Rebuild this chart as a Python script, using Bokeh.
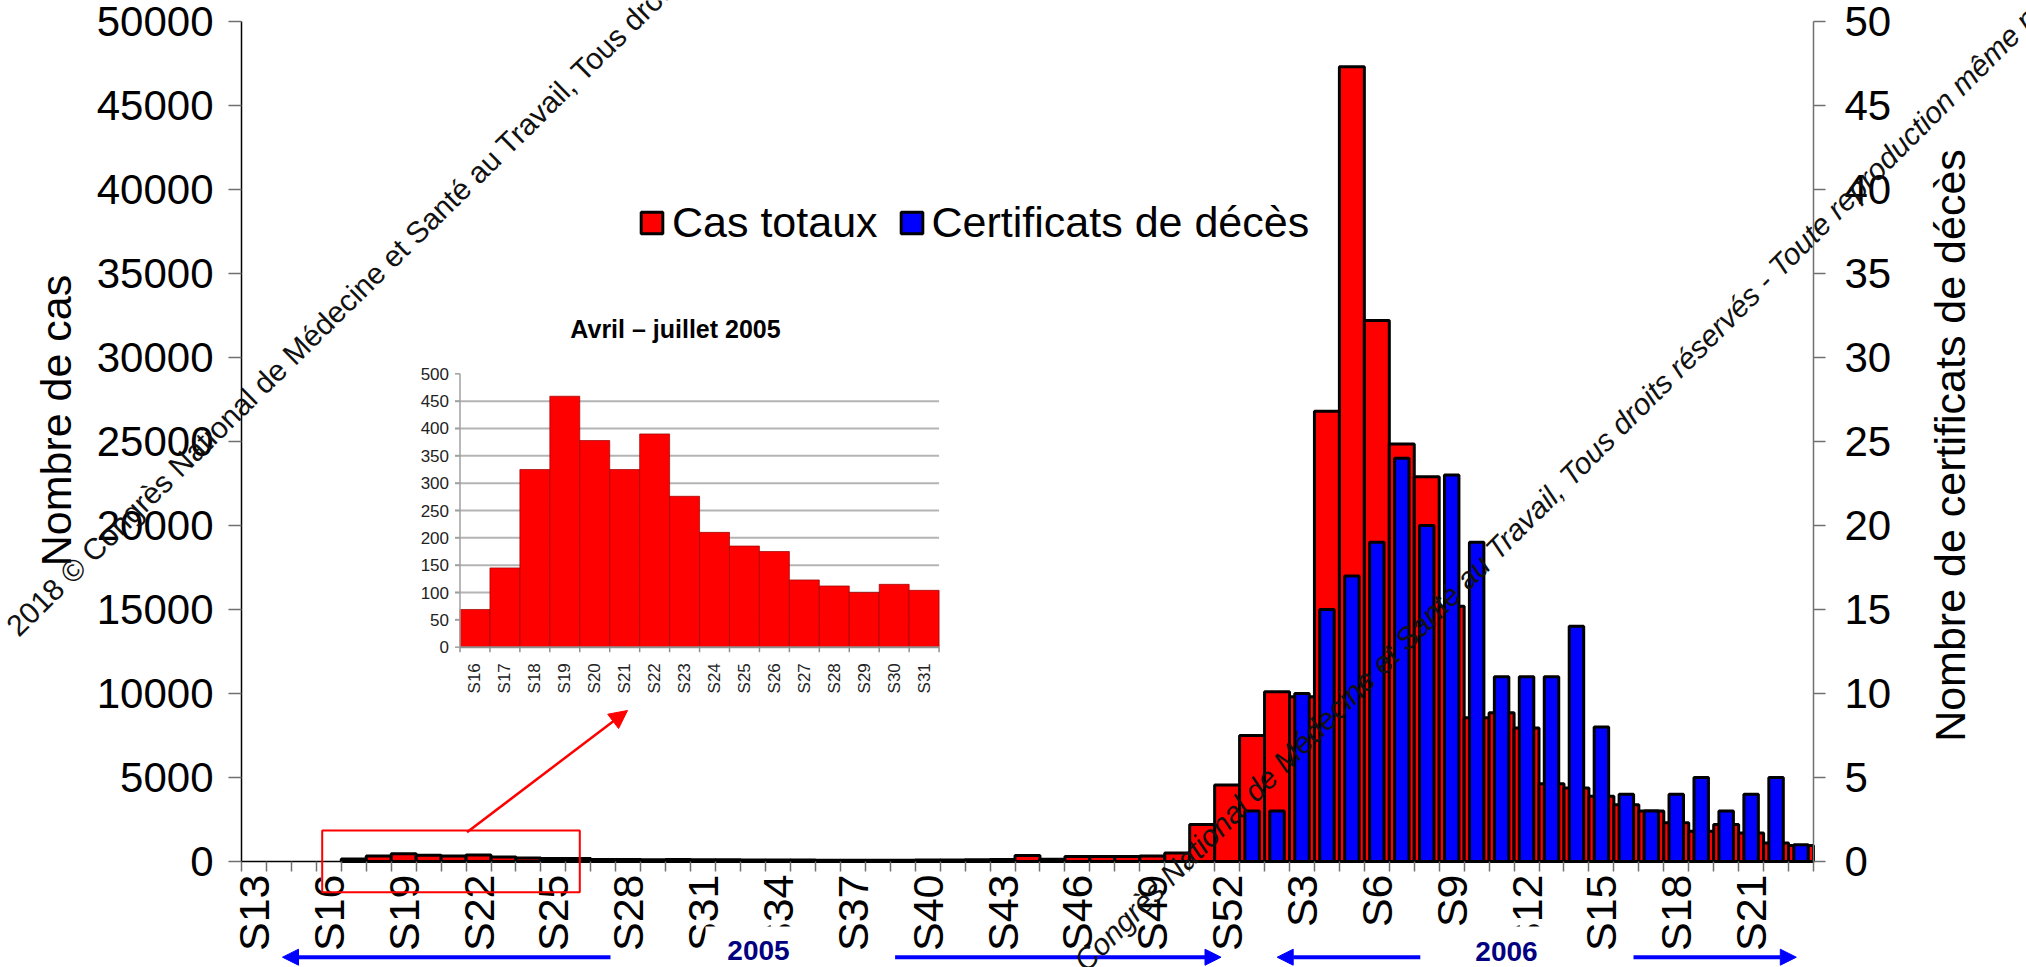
import math
from bokeh.plotting import figure
from bokeh.models import (Range1d, LinearAxis, FixedTicker, Label, Arrow, NormalHead,
                          BoxAnnotation, ColumnDataSource, Legend, LegendItem)
from bokeh.core.properties import value
from bokeh.embed import file_html
from bokeh.resources import INLINE

# ---------------- data ----------------
weeks_2005 = ["S13", "S14", "S15", "S16", "S17", "S18", "S19", "S20", "S21", "S22",
              "S23", "S24", "S25", "S26", "S27", "S28", "S29", "S30", "S31", "S32",
              "S33", "S34", "S35", "S36", "S37", "S38", "S39", "S40", "S41", "S42",
              "S43", "S44", "S45", "S46", "S47", "S48", "S49", "S50", "S51", "S52"]
weeks_2006 = ["S1", "S2", "S3", "S4", "S5", "S6", "S7", "S8", "S9", "S10", "S11", "S12",
              "S13", "S14", "S15", "S16", "S17", "S18", "S19", "S20", "S21", "S22", "S23"]

cas_2005 = [0, 0, 0, 0, 145, 325, 460, 378, 325, 390,
            275, 210, 185, 175, 122, 112, 100, 115, 103, 100,
            95, 90, 85, 80, 80, 75, 80, 85, 90, 100,
            120, 350, 130, 300, 300, 300, 320, 500, 2200, 4550]
cas_2006 = [7500, 10100, 9800, 26800, 47300, 32200, 24850, 22900, 15200, 8550, 8850, 7950,
            4630, 4380, 3880, 3380, 3000, 2300, 1800, 2200, 1700, 1100, 950]
deces_2006 = [3, 3, 10, 15, 17, 19, 24, 20, 23, 19, 11, 11,
              11, 14, 8, 4, 3, 4, 5, 3, 4, 5, 1]

inset_weeks = ["S16", "S17", "S18", "S19", "S20", "S21", "S22", "S23",
               "S24", "S25", "S26", "S27", "S28", "S29", "S30", "S31"]
inset_cas = [69, 145, 325, 459, 378, 325, 390, 276, 210, 185, 175, 123, 112, 100, 115, 104]

y_ticks_cas = [0, 5000, 10000, 15000, 20000, 25000, 30000, 35000, 40000, 45000, 50000]
y_ticks_deces = [0, 5, 10, 15, 20, 25, 30, 35, 40, 45, 50]
inset_y_ticks = [0, 50, 100, 150, 200, 250, 300, 350, 400, 450, 500]
inset_grid = [50, 100, 150, 200, 250, 300, 350, 400, 450]

FONT = "Liberation Sans"
RED = "#FF0000"
BLUE = "#0000FF"
NAVY = "#000080"

# ---------------- layout (page pixels) ----------------
W, H = 2026, 967
FL, FR, FT, FB = 241.0, 1813.0, 21.0, 861.0        # main data area
IL, IR, IT, IB = 459.5, 938.6, 373.3, 646.7        # inset data area
CAS_MAX, DEC_MAX, INS_MAX = 50000, 50, 500

cats = weeks_2005 + weeks_2006
n = len(cats)
xu = (FR - FL) / n
yu = (FB - FT) / CAS_MAX
ixu = (IR - IL) / len(inset_weeks)
iyu = (IB - IT) / INS_MAX


def X(px):
    return (px - FL) / xu


def Y(py):
    return (FB - py) / yu


def IX(px):
    return (px - IL) / ixu


def IY(py):
    return (IB - py) / iyu


centers = [i + 0.5 for i in range(n)]
red_src = ColumnDataSource(dict(
    x=[centers[i] for i, v in enumerate(cas_2005 + cas_2006) if v > 0],
    top=[v for v in cas_2005 + cas_2006 if v > 0]))
off = len(weeks_2005)
blue_src = ColumnDataSource(dict(
    x=[centers[off + i] for i in range(len(deces_2006))],
    top=deces_2006))

# ---------------- figure ----------------
p = figure(width=W, height=H, title=None,
           x_range=Range1d(X(0), X(W)), y_range=Range1d(Y(H), Y(0)),
           output_backend="svg", toolbar_location=None, min_border=0)
p.extra_y_ranges = {"deces": Range1d(Y(H) * DEC_MAX / CAS_MAX, Y(0) * DEC_MAX / CAS_MAX),
                    "iy": Range1d(IY(H), IY(0))}
p.extra_x_ranges = {"ix": Range1d(IX(0), IX(W))}
p.xgrid.visible = False
p.ygrid.visible = False
p.outline_line_color = None

# ---------------- inset (Avril - juillet 2005) ----------------
ni = len(inset_weeks)
p.segment(x0=[IX(IL - 5)] * len(inset_grid), x1=[ni] * len(inset_grid), y0=inset_grid, y1=inset_grid,
          x_range_name="ix", y_range_name="iy", line_color="#b4b4b4", line_width=2)
p.vbar(x=[i + 0.5 for i in range(ni)], top=inset_cas, width=1.0,
       x_range_name="ix", y_range_name="iy", fill_color=RED,
       line_color="#9a0000", line_width=1, line_alpha=0.7)
p.segment(x0=[0], x1=[0], y0=[0], y1=[INS_MAX], x_range_name="ix", y_range_name="iy",
          line_color="#a0a0a0", line_width=1.5)
p.segment(x0=[0], x1=[ni], y0=[0], y1=[0], x_range_name="ix", y_range_name="iy",
          line_color="#909090", line_width=2)
p.segment(x0=list(range(ni + 1)), x1=list(range(ni + 1)), y0=[0] * (ni + 1),
          y1=[IY(IB + 5)] * (ni + 1),
          x_range_name="ix", y_range_name="iy", line_color="#909090", line_width=1.5)
p.segment(x0=[IX(IL - 5)] * len(inset_y_ticks), x1=[0] * len(inset_y_ticks),
          y0=inset_y_ticks, y1=inset_y_ticks,
          x_range_name="ix", y_range_name="iy", line_color="#a0a0a0", line_width=1.5)
p.text(x=[IX(IL - 11)] * len(inset_y_ticks), y=inset_y_ticks, text=[str(v) for v in inset_y_ticks],
       x_range_name="ix", y_range_name="iy", text_align="right", text_baseline="middle",
       text_font=value(FONT), text_font_size="17px", text_color="#222222")
p.text(x=[i + 0.5 for i in range(ni)], y=[IY(IB + 16)] * ni, text=inset_weeks,
       x_range_name="ix", y_range_name="iy", angle=math.pi / 2,
       text_align="right", text_baseline="middle",
       text_font=value(FONT), text_font_size="17px", text_color="#222222")
p.text(x=[IX(675)], y=[IY(328)], text=["Avril – juillet 2005"], x_range_name="ix", y_range_name="iy",
       text_align="center", text_baseline="middle", text_font=value(FONT),
       text_font_size="25px", text_font_style="bold", text_color="black")

# ---------------- main bars ----------------
r_red = p.vbar(x="x", top="top", width=1.0, source=red_src, fill_color=RED,
               line_color="black", line_width=3)
r_blue = p.vbar(x="x", top="top", width=0.58, source=blue_src, y_range_name="deces",
                fill_color=BLUE, line_color="black", line_width=3)

# ---------------- axes (fixed at the data area's edges) ----------------
xa = p.xaxis[0]
xa.fixed_location = 0
xa.bounds = (0, n)
lab_idx = list(range(0, n, 3))
xa.ticker = FixedTicker(ticks=[centers[i] for i in lab_idx], minor_ticks=list(range(n + 1)))
xa.major_label_overrides = {centers[i]: cats[i] for i in lab_idx}
xa.major_label_orientation = math.pi / 2
xa.major_tick_line_color = None
xa.major_tick_out = 10
xa.major_tick_in = 0
xa.minor_tick_line_color = "#707070"
xa.minor_tick_line_width = 1.5
xa.minor_tick_out = 10
xa.minor_tick_in = 0
xa.major_label_standoff = 3
xa.major_label_text_font = FONT
xa.major_label_text_font_size = "43px"
xa.major_label_text_color = "black"
xa.axis_line_color = "black"
xa.axis_line_width = 1.5

ya = p.yaxis[0]
ya.fixed_location = 0
ya.bounds = (0, CAS_MAX)
ya.ticker = FixedTicker(ticks=y_ticks_cas)
ya.major_tick_out = 13
ya.major_tick_in = 0
ya.major_tick_line_color = "#707070"
ya.major_tick_line_width = 1.5
ya.minor_tick_line_color = None
ya.major_label_standoff = 15
ya.major_label_text_font = FONT
ya.major_label_text_font_size = "42px"
ya.major_label_text_color = "black"
ya.axis_line_color = "black"
ya.axis_line_width = 1.5

ra = LinearAxis(y_range_name="deces", ticker=FixedTicker(ticks=y_ticks_deces))
ra.fixed_location = n
ra.bounds = (0, DEC_MAX)
ra.major_tick_out = 12
ra.major_tick_in = 0
ra.major_tick_line_color = "#707070"
ra.major_tick_line_width = 1.5
ra.minor_tick_line_color = None
ra.major_label_standoff = 19
ra.major_label_text_font = FONT
ra.major_label_text_font_size = "42px"
ra.major_label_text_color = "black"
ra.axis_line_color = "#707070"
ra.axis_line_width = 1.5
p.add_layout(ra, "right")

# axis titles
p.add_layout(Label(x=X(55), y=Y(420), text="Nombre de cas", angle=math.pi / 2,
                   text_align="center", text_baseline="middle", text_font=FONT,
                   text_font_size="43px", text_color="black"))
p.add_layout(Label(x=X(1949), y=Y(445), text="Nombre de certificats de décès", angle=math.pi / 2,
                   text_align="center", text_baseline="middle", text_font=FONT,
                   text_font_size="43px", text_color="black"))

# legend
legend = Legend(items=[LegendItem(label="Cas totaux", renderers=[r_red]),
                       LegendItem(label="Certificats de décès", renderers=[r_blue])],
                orientation="horizontal", location=(638, H - 221.5 - 25),
                label_text_font=FONT, label_text_font_size="43px", label_text_color="black",
                glyph_width=27, glyph_height=27, label_standoff=7, spacing=20,
                padding=0, margin=0, border_line_color=None, background_fill_alpha=0)
p.add_layout(legend)

# zoom rectangle and red arrow
p.add_layout(BoxAnnotation(left=X(321.7), right=X(579.3), top=Y(830), bottom=Y(891.7),
                           fill_alpha=0, line_color=RED, line_width=2, line_alpha=1))
p.add_layout(Arrow(x_start=X(466.5), y_start=Y(831.7), x_end=X(627), y_end=Y(710),
                   line_color=RED, line_width=2.5,
                   end=NormalHead(size=18, fill_color=RED, line_color=RED)))

# year boxes, labels and arrows
for (l, r) in [(705, 805), (1465, 1548)]:
    p.add_layout(BoxAnnotation(left=X(l), right=X(r), top=Y(926), bottom=Y(H),
                               fill_color="white", fill_alpha=1, line_color=None))
p.add_layout(Label(x=X(758), y=Y(950), text="2005", text_align="center", text_baseline="middle",
                   text_font=FONT, text_font_size="28px", text_font_style="bold",
                   text_color=NAVY))
p.add_layout(Label(x=X(1506), y=Y(951), text="2006", text_align="center", text_baseline="middle",
                   text_font=FONT, text_font_size="28px", text_font_style="bold",
                   text_color=NAVY))
for (xs, xe) in [(610, 282), (894.6, 1220.5), (1419.8, 1276.7), (1633, 1795.8)]:
    p.add_layout(Arrow(x_start=X(xs), y_start=Y(956.7), x_end=X(xe), y_end=Y(956.7),
                       line_color=BLUE, line_width=4,
                       end=NormalHead(size=16, fill_color=BLUE, line_color=BLUE)))

# watermark text
WM = ("2018 © Congrès National de Médecine et Santé au Travail, Tous droits réservés - "
      "Toute reproduction même partielle interdite")
p.add_layout(Label(x=X(11), y=Y(630), text=WM, angle=math.radians(44.5),
                   text_font=FONT, text_font_size="30px", text_color="#111111",
                   text_baseline="alphabetic", text_align="left"))
p.add_layout(Label(x=X(1004), y=Y(1040), text=WM, angle=math.radians(45),
                   text_font=FONT, text_font_size="30px", text_color="#111111",
                   text_font_style="italic", text_baseline="alphabetic", text_align="left"))

open("out.html", "w").write(file_html(p, INLINE))
